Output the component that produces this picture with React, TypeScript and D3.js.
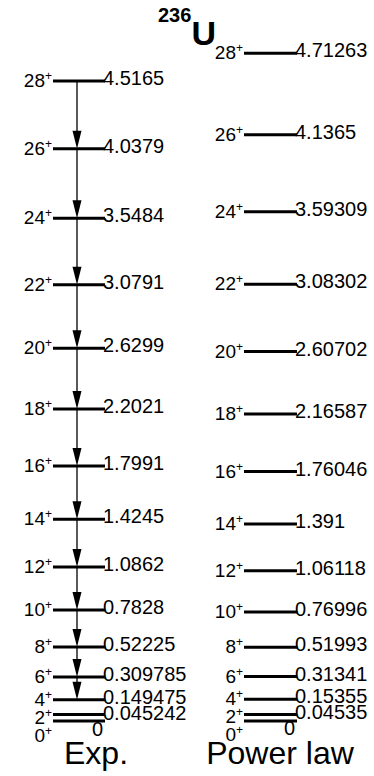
import * as d3 from 'd3';

// level scheme of 236U: ground-state band, experiment vs power-law fit (MeV)
const spins = [0, 2, 4, 6, 8, 10, 12, 14, 16, 18, 20, 22, 24, 26, 28];
const expEnergies = [0, 0.045242, 0.149475, 0.309785, 0.52225, 0.7828, 1.0862, 1.4245, 1.7991, 2.2021, 2.6299, 3.0791, 3.5484, 4.0379, 4.5165];
const powerLawEnergies = [0, 0.04535, 0.15355, 0.31341, 0.51993, 0.76996, 1.06118, 1.391, 1.76046, 2.16587, 2.60702, 3.08302, 3.59309, 4.1365, 4.71263];
// E2 transitions drawn in the experimental column (J -> J-2)
const transitionSpins = [28, 26, 24, 22, 20, 18, 16, 14, 12, 10, 8, 6];
const columnNames = ['Exp.', 'Power law'];
const massNumber = '236';
const element = 'U';

const W = 374;
const H = 776;
const FONT = '"Liberation Sans", Arial, Helvetica, sans-serif';

// push labels downward so that neighbours keep at least `gap` px apart
const spread = (ys: number[], gap: number) => {
  const out = ys.slice();
  for (let i = out.length - 2; i >= 0; i--) {
    if (out[i] < out[i + 1] + gap) out[i] = out[i + 1] + gap;
  }
  return out;
};

const y = d3.scaleLinear().domain([0, d3.max(expEnergies) as number]).range([721, 81]);

type ColumnProps = {
  energies: number[];
  x1: number;
  x2: number;
  name: string;
  nameX: number;
  arrows?: boolean;
};

function Column({ energies, x1, x2, name, nameX, arrows }: ColumnProps) {
  const spinY = spread(energies.map(e => y(e) + 6), 18);
  const energyY = spread(energies.map(e => y(e) + 4), 16);
  const ax = (x1 + x2) / 2 - 2;

  return (
    <g>
      {energies.map((e, i) => (
        <line key={'l' + i} x1={x1} x2={x2} y1={y(e)} y2={y(e)} stroke="#000" strokeWidth={3} />
      ))}
      {arrows &&
        transitionSpins.map(j => {
          const from = y(energies[spins.indexOf(j)]);
          const to = y(energies[spins.indexOf(j - 2)]);
          return (
            <g key={'t' + j}>
              <line x1={ax} x2={ax} y1={from} y2={to - 16} stroke="#000" strokeWidth={1.3} />
              <path d={`M${ax - 4.5},${to - 18}L${ax + 4.5},${to - 18}L${ax},${to}Z`} fill="#000" />
            </g>
          );
        })}
      {energies.map((e, i) => (
        <text key={'s' + i} x={x1 - 1} y={spinY[i]} textAnchor="end" fontSize={19} fontFamily={FONT}>
          {spins[i]}
          <tspan fontSize={12} dy={-7}>+</tspan>
        </text>
      ))}
      {energies.map((e, i) => (
        // the ground state's "0" sits under the right end of its line
        <text
          key={'e' + i}
          x={x2 - 2}
          y={energyY[i]}
          textAnchor={e === 0 ? 'end' : 'start'}
          fontSize={20}
          fontFamily={FONT}
        >
          {String(e)}
        </text>
      ))}
      <text x={nameX} y={764} textAnchor="middle" fontSize={32} fontFamily={FONT}>
        {name}
      </text>
    </g>
  );
}

export default function App() {
  return (
    <svg
      width={W}
      height={H}
      viewBox={`0 0 ${W} ${H}`}
      style={{ position: 'absolute', left: 0, top: 0, background: '#fff' }}
    >
      <text x={158} fontFamily={FONT} fontWeight="bold">
        <tspan y={22} fontSize={20}>{massNumber}</tspan>
        <tspan y={45} fontSize={34}>{element}</tspan>
      </text>
      <Column energies={expEnergies} x1={53} x2={105} name={columnNames[0]} nameX={96} arrows />
      <Column energies={powerLawEnergies} x1={244} x2={297} name={columnNames[1]} nameX={280} />
    </svg>
  );
}
